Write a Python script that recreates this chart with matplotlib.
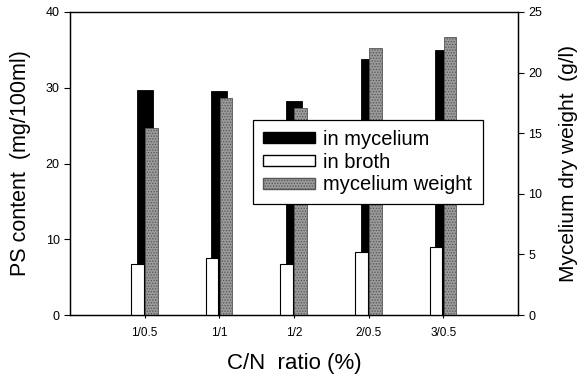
import matplotlib
matplotlib.use("Agg")
import matplotlib.pyplot as plt
from matplotlib.patches import Patch
import numpy as np

categories = ["1/0.5", "1/1", "1/2", "2/0.5", "3/0.5"]
in_mycelium = [29.7, 29.6, 28.3, 33.8, 35.0]
in_broth = [6.7, 7.5, 6.7, 8.3, 9.0]
mycelium_weight = [15.4, 17.9, 17.05, 22.0, 22.9]

plt.rcParams['font.family'] = ['Liberation Sans', 'DejaVu Sans']
plt.rcParams['hatch.linewidth'] = 0.6

fig = plt.figure(figsize=(5.82, 3.80), dpi=100)
ax = fig.add_axes([70/582, 1 - 315/380, 448/582, 303/380])
ax2 = ax.twinx()

x = np.arange(1, len(categories) + 1)
ax.bar(x, in_mycelium, width=0.21, color='black', edgecolor='black', linewidth=0.6, zorder=2)
ax.bar(x - 0.1, in_broth, width=0.17, color='white', edgecolor='black', linewidth=0.8, zorder=3)
ax2.bar(x + 0.09, mycelium_weight, width=0.17, color='#9a9a9a', edgecolor='#555555',
        hatch='......', linewidth=0.6, zorder=2)

ax.set_xlim(0, 6)
ax.set_ylim(0, 40)
ax2.set_ylim(0, 25)
ax.set_xticks(x)
ax.set_xticklabels(categories, fontsize=8.5)
ax.set_yticks([0, 10, 20, 30, 40])
ax2.set_yticks([0, 5, 10, 15, 20, 25])
ax.tick_params(axis='y', labelsize=9, direction='out', length=4, width=0.8)
ax2.tick_params(axis='y', labelsize=9, direction='out', length=4, width=0.8)
ax.tick_params(axis='x', direction='inout', length=5, width=0.8, pad=6)

ax.set_ylabel("PS content  (mg/100ml)", fontsize=15.5)
ax.yaxis.set_label_coords(-0.088, 0.5)
ax2.set_ylabel("Mycelium dry weight  (g/l)", fontsize=15, labelpad=12)
ax.set_xlabel("C/N  ratio (%)", fontsize=16, labelpad=10)

for a in (ax, ax2):
    for s in a.spines.values():
        s.set_linewidth(0.9)
ax.spines['top'].set_color('#555555')

handles = [Patch(facecolor='black', edgecolor='black'),
           Patch(facecolor='white', edgecolor='black'),
           Patch(facecolor='#9a9a9a', edgecolor='#555555', hatch='......')]
leg = ax2.legend(handles, ["in mycelium", "in broth", "mycelium weight"],
                 loc='upper left', bbox_to_anchor=((253-70)/448, (315-120)/303),
                 fontsize=14.5, frameon=True, fancybox=False, framealpha=1,
                 edgecolor='black', handlelength=2.6, handleheight=0.45,
                 borderpad=0.5, labelspacing=0.18, handletextpad=0.4, borderaxespad=0)
leg.get_frame().set_linewidth(0.9)
leg.set_zorder(10)

fig.savefig("out.png", dpi=100)
